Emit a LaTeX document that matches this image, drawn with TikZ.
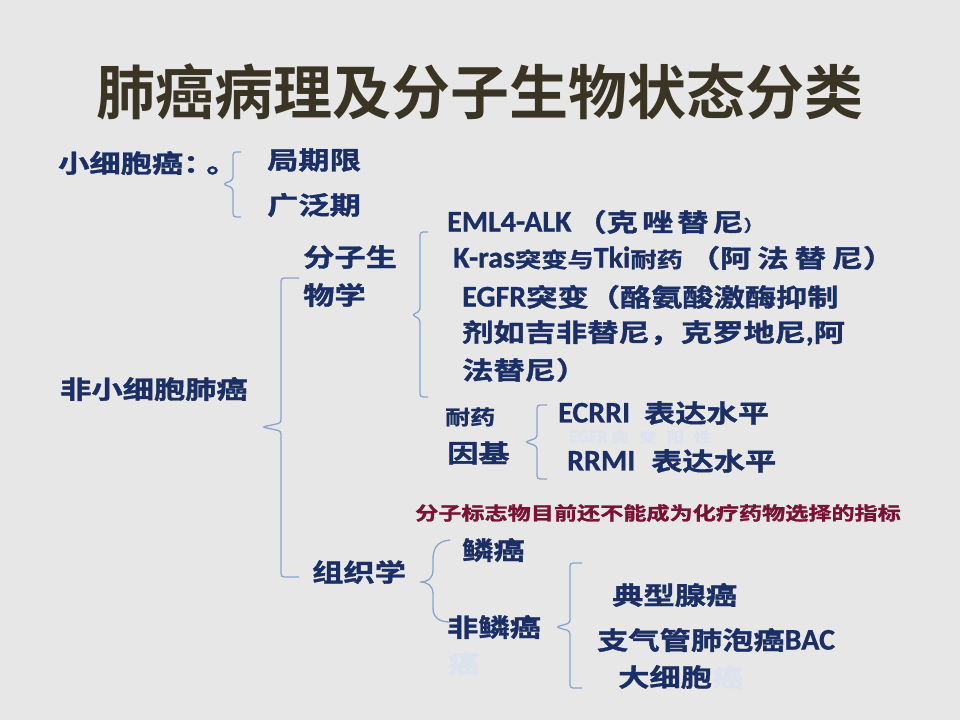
\documentclass[tikz,border=0pt]{standalone}
\usepackage{fontspec}
\newfontfamily\cjk{Noto Sans CJK SC Bold}[FakeStretch=1.25,FakeBold=1.4]
\newfontfamily\cjkt{Noto Sans CJK SC Bold}
\newfontfamily\latb{Carlito Bold}[FakeBold=0.8]
\definecolor{bgc}{HTML}{E7E7E7}
\definecolor{navy}{HTML}{1B2F66}
\definecolor{titlec}{HTML}{3A3424}
\definecolor{brkc}{HTML}{8AA4CC}
\definecolor{maroon}{HTML}{7A1236}
\definecolor{faint}{HTML}{DCE3EE}
\newcommand\fs[1]{\fontsize{#1}{#1}\selectfont}
\newcommand\La[1]{{\latb\fs{30}#1}}
\begin{document}
\begin{tikzpicture}[x=1pt,y=-1pt,
  t/.style={anchor=west,inner sep=0,text=navy,font=\cjk\fs{25}},
  ttl/.style={inner sep=0,font=\cjkt\fs{59}},
  brk/.style={draw=brkc,line width=1.3pt,rounded corners=3pt}]
\fill[bgc] (0,0) rectangle (960,720);
\useasboundingbox (0,0) rectangle (960,720);
% title
\node[ttl,text=titlec] (title) at (480,92) {肺癌病理及分子生物状态分类};
% small cell
\node[t] (sclc) at (58,163) {小细胞癌：\kern-8pt 。};
\node[t] (lim) at (267,160) {局期限};
\node[t] (ext) at (267,205) {广泛期};
% non small cell
\node[t] (nsclc) at (60,389) {非小细胞肺癌};
\node[t] (mol1) at (303,257) {分子生};
\node[t] (mol2) at (303,295) {物学};
\node[t] (hist) at (312,572) {组织学};
% molecular lines
\node[t] (eml) at (447,222) {\La{EML4-ALK}\kern4pt（克\kern4pt 唑\kern4pt 替\kern4pt 尼{\fs{16}）}};
\node[t] (kras) at (453,258) {\La{K-ras}{\fs{21}突变与}\La{Tki}{\fs{21}耐药}\kern6pt（阿\kern6pt 法\kern6pt 替\kern6pt 尼）};
\node[t] (egfr1) at (462,297) {\La{EGFR}突变（酪氨酸激酶抑制};
\node[t] (egfr2) at (462,333) {剂如吉非替尼，克罗地尼\La{,}阿};
\node[t] (egfr3) at (462,370) {法替尼）};
% resistance genes
\node[t,font=\cjk\fs{20}] (res1) at (445,417) {耐药};
\node[t] (res2) at (447,453) {因基};
\node[t,text=faint,font=\cjk\fs{14}] (egfrp) at (569,437) {{\latb\fs{18}EGFR}\kern4pt 突\kern10pt 变\kern10pt 阳\kern10pt 性};
\node[t] (ecrri) at (558,413) {\La{ECRRI}\hspace{14pt}表达水平};
\node[t] (rrmi) at (567,461) {\La{RRMI}\hspace{16pt}表达水平};
% note
\node[t,text=maroon,font=\cjk\fs{18.5}] (note) at (415,513) {分子标志物目前还不能成为化疗药物选择的指标};
% histology
\node[t] (sq) at (462,550) {鳞癌};
\node[t] (nsq) at (447,627) {非鳞癌};
\node[t,text=faint] (nsqf) at (448,663) {癌};
\node[t] (ad) at (612,595) {典型腺癌};
\node[t] (bac) at (597,640) {支气管肺泡癌\La{BAC}};
\node[t] (lc) at (618,677) {大细胞};
\node[t,text=faint] (lcf) at (lc.east) {癌};
% bracket coordinates
\coordinate (b1t) at (241,152); \coordinate (b1b) at (241,217);
\coordinate (b1v) at (233,184); \coordinate (b1m) at (223,184);
\coordinate (b2t) at (299,278); \coordinate (b2b) at (299,577);
\coordinate (b2v) at (281,427); \coordinate (b2m) at (262,427);
\coordinate (b3t) at (428,232); \coordinate (b3b) at (428,397);
\coordinate (b3v) at (420,315); \coordinate (b3m) at (412,315);
\coordinate (b4t) at (547,405); \coordinate (b4b) at (547,479);
\coordinate (b4v) at (537,442); \coordinate (b4m) at (525,442);
\coordinate (b6t) at (582,563); \coordinate (b6b) at (582,688);
\coordinate (b6v) at (570,627); \coordinate (b6m) at (556,627);
\foreach \b in {b1,b2,b3,b4,b6}{
  \draw[brk] (\b t) -- (\b t -| \b v) -- ([yshift=4pt]\b v) -- (\b m) -- ([yshift=-4pt]\b v) -- (\b b -| \b v) -- (\b b);
}
% curly brace for histology
\coordinate (b5t) at (450,540); \coordinate (b5b) at (450,622); \coordinate (b5m) at (420,582);
\draw[draw=brkc,line width=1.3pt] (b5t) .. controls (436,541) and (433,550) .. (433,560) -- (433,570)
  .. controls (433,578) and (428,582) .. (b5m)
  .. controls (428,582) and (433,586) .. (433,594) -- (433,608)
  .. controls (433,618) and (440,622) .. (b5b);
\end{tikzpicture}
\end{document}
